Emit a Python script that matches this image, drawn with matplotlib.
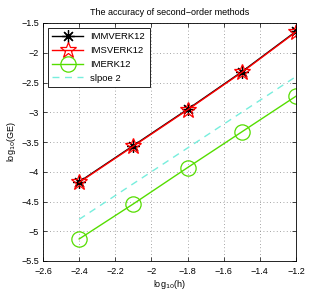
import matplotlib
matplotlib.use("Agg")
import matplotlib.pyplot as plt

# data
log_h = [-2.4, -2.1, -1.8, -1.5, -1.2]
immverk12 = [-4.17, -3.56, -2.95, -2.32, -1.64]
imsverk12 = [-4.18, -3.57, -2.96, -2.33, -1.65]
imerk12 = [-5.13, -4.54, -3.93, -3.33, -2.73]
slope_x = [-2.4, -1.2]
slope_y = [-4.8, -2.4]

plt.rcParams["font.family"] = ["Liberation Sans", "DejaVu Sans"]
plt.rcParams["font.size"] = 6.5

fig = plt.figure(figsize=(3.27, 2.94), dpi=100)
ax = fig.add_axes([43 / 327, 1 - 261 / 294, 253 / 327, 238 / 294])

ax.plot(log_h, immverk12, color="black", lw=1.0, marker=(8, 2, 0),
        markersize=9, markeredgewidth=0.9, label="IMMVERK12")
ax.plot(log_h, imsverk12, color="red", lw=1.0, marker="*",
        markersize=12, markerfacecolor="none", markeredgecolor="red",
        markeredgewidth=0.9, label="IMSVERK12")
ax.plot(log_h, imerk12, color="#55dd00", lw=1.0, marker="o",
        markersize=11, markerfacecolor="none", markeredgecolor="#55dd00",
        markeredgewidth=0.9, label="IMERK12")
ax.plot(slope_x, slope_y, color="#77eedd", lw=1.0, ls=(0, (5, 4)),
        label="slpoe 2")

ax.set_xlim(-2.6, -1.2)
ax.set_ylim(-5.5, -1.5)
ax.set_xticks([-2.6, -2.4, -2.2, -2.0, -1.8, -1.6, -1.4, -1.2])
ax.set_xticklabels(["\u22122.6", "\u22122.4", "\u22122.2", "\u22122", "\u22121.8",
                    "\u22121.6", "\u22121.4", "\u22121.2"])
ax.set_yticks([-5.5, -5, -4.5, -4, -3.5, -3, -2.5, -2, -1.5])
ax.set_yticklabels(["\u22125.5", "\u22125", "\u22124.5", "\u22124", "\u22123.5",
                    "\u22123", "\u22122.5", "\u22122", "\u22121.5"])
ax.tick_params(direction="in", length=3, width=0.5, top=True, right=True)
ax.tick_params(axis="x", pad=4)
ax.tick_params(axis="y", pad=3)
ax.grid(True, ls=(0, (1, 3)), color="#888888", lw=0.6)
for s in ax.spines.values():
    s.set_linewidth(0.6)

ax.set_title("The accuracy of second\u2212order methods", fontsize=6.5, pad=6)
ax.set_xlabel("log$_{10}$(h)", labelpad=2)
ax.set_ylabel("log$_{10}$(GE)", labelpad=2)

leg = ax.legend(loc="upper left", fontsize=6.8, handlelength=3.2,
                borderpad=0.5, labelspacing=0.5, fancybox=False,
                framealpha=1, edgecolor="black", borderaxespad=0.5)
leg.get_frame().set_linewidth(0.6)

fig.savefig("out.png", dpi=100)
